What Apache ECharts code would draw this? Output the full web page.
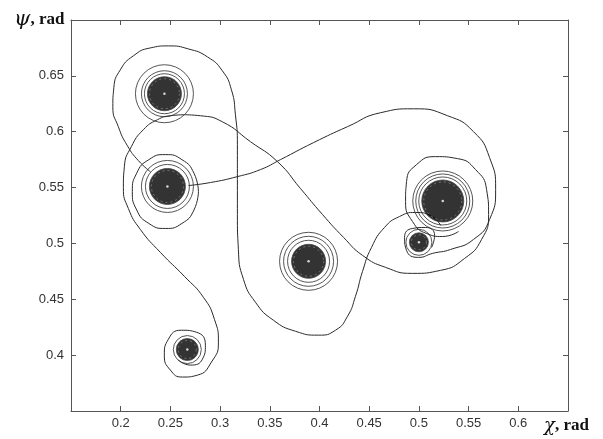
<!DOCTYPE html>
<html>
<head>
<meta charset="utf-8">
<script src="https://cdn.jsdelivr.net/npm/echarts@6/dist/echarts.min.js"></script>
<style>
html,body{margin:0;padding:0;background:#fff;}
#chart{width:603px;height:439px;}
</style>
</head>
<body>
<div id="chart"></div>
<script>
// ---- data (units: rad) ----
const xTicks = [0.2, 0.25, 0.3, 0.35, 0.4, 0.45, 0.5, 0.55, 0.6];
const yTicks = [0.4, 0.45, 0.5, 0.55, 0.6, 0.65];

// focus points (centres of the dense spirals)
const fociChi = [0.244, 0.247, 0.389, 0.524, 0.500, 0.267];
const fociPsi = [0.634, 0.551, 0.484, 0.538, 0.501, 0.405];

// trajectory pieces [chi, psi]
const pathTopLoop = [
  [0.2298,0.5643],[0.2178,0.5741],[0.2067,0.5875],[0.1976,0.6045],[0.1921,0.6223],
  [0.1931,0.6393],[0.1996,0.6554],[0.2127,0.6679],[0.2298,0.6750],[0.2480,0.6768],
  [0.2681,0.6741],[0.2872,0.6670],[0.3023,0.6545],[0.3114,0.6375],[0.3154,0.6152],
  [0.3174,0.5884],[0.3174,0.5571],[0.3174,0.5259],[0.3184,0.4946],[0.3235,0.4679],
  [0.3356,0.4473],[0.3537,0.4312],[0.3758,0.4214],[0.3990,0.4179],[0.4161,0.4223],
  [0.4282,0.4348],[0.4362,0.4527],[0.4433,0.4750],[0.4523,0.4964],[0.4654,0.5143],
  [0.4805,0.5241],[0.4966,0.5277],[0.5117,0.5250],[0.5218,0.5161]
];
const pathToF = [
  [0.2641,0.6152],[0.2500,0.6143],[0.2369,0.6107],[0.2228,0.6018],[0.2107,0.5866],
  [0.2037,0.5688],[0.2027,0.5500],[0.2077,0.5313],[0.2198,0.5125],[0.2399,0.4920],
  [0.2641,0.4705],[0.2832,0.4518],[0.2943,0.4321],[0.2983,0.4116],[0.2913,0.3938],
  [0.2772,0.3821],[0.2621,0.3804],[0.2500,0.3866],[0.2439,0.4000],[0.2480,0.4143],
  [0.2610,0.4223],[0.2762,0.4205],[0.2852,0.4089],[0.2822,0.3964],[0.2701,0.3911],
  [0.2580,0.3955]
];
const pathToD = [
  [0.2641,0.6152],[0.2802,0.6143],[0.3023,0.6089],[0.3305,0.5911],[0.3577,0.5732],
  [0.3809,0.5491],[0.4030,0.5259],[0.4242,0.5054],[0.4433,0.4893],[0.4664,0.4786],
  [0.4936,0.4732],[0.5218,0.4759],[0.5460,0.4866],[0.5631,0.5036],[0.5701,0.5259],
  [0.5681,0.5482],[0.5570,0.5661],[0.5389,0.5759],[0.5168,0.5777],[0.4976,0.5705],
  [0.4876,0.5554],[0.4866,0.5375],[0.4936,0.5196],[0.5077,0.5089],[0.5238,0.5062],
  [0.5399,0.5107]
];
const pathUpper = [
  [0.2681,0.5518],[0.2902,0.5545],[0.3174,0.5598],[0.3406,0.5661],[0.3607,0.5750],
  [0.3939,0.5902],[0.4282,0.6045],[0.4614,0.6170],[0.4946,0.6205],[0.5289,0.6143],
  [0.5550,0.6000],[0.5711,0.5768],[0.5772,0.5482],[0.5711,0.5214],[0.5550,0.5036],
  [0.5319,0.4946],[0.5138,0.4911],[0.4997,0.4875],[0.4876,0.4937],[0.4856,0.5054],
  [0.4936,0.5134],[0.5067,0.5143],[0.5158,0.5071],[0.5128,0.4964]
];
const loopB = [
  [0.2782,0.5464],[0.2737,0.5299],[0.2616,0.5179],[0.2449,0.5134],[0.2283,0.5179],
  [0.2161,0.5299],[0.2117,0.5464],[0.2161,0.5629],[0.2283,0.5750],[0.2449,0.5795],
  [0.2616,0.5750],[0.2737,0.5629],[0.2782,0.5464]
];

// ---- style (pixel sizes of the spiral cores and rings) ----
const coreSize = [34, 36, 34, 42, 19, 22];
const ringSets = [[40, 46, 58], [44, 52], [42, 50, 58], [48, 54, 60], [26], [28]];
const lineColor = '#2a2a2a';

const chart = echarts.init(document.getElementById('chart'));
const xFmt = v => { const r = Math.round(v*100)/100; return xTicks.indexOf(r) >= 0 ? String(r) : ''; };
const yFmt = v => { const r = Math.round(v*100)/100; return yTicks.indexOf(r) >= 0 ? String(r) : ''; };

const series = [];
[pathTopLoop, pathToF, pathToD, pathUpper, loopB].forEach(p => {
  series.push({
    type: 'line', data: p, smooth: 0.55, showSymbol: false, symbol: 'none',
    lineStyle: { color: lineColor, width: 1 }, silent: true, z: 2
  });
});
const fociData = fociChi.map((c, i) => [c, fociPsi[i]]);
// rings
ringSets.forEach((rs, i) => {
  rs.forEach(s => {
    series.push({
      type: 'scatter', data: [fociData[i]], symbol: 'circle', symbolSize: s,
      itemStyle: { color: 'rgba(0,0,0,0)', borderColor: lineColor, borderWidth: 1 },
      silent: true, z: 3
    });
  });
});
// dense cores
series.push({
  type: 'scatter', data: fociData, symbol: 'circle',
  symbolSize: (v, p) => coreSize[p.dataIndex],
  itemStyle: { color: '#000', borderColor: '#444', borderWidth: 1 },
  silent: true, z: 4
});
series.push({
  type: 'scatter', data: fociData, symbol: 'circle',
  symbolSize: (v, p) => coreSize[p.dataIndex] - 4,
  itemStyle: { color: 'rgba(0,0,0,0)', borderColor: '#888', borderWidth: 1, borderType: [2, 3] },
  silent: true, z: 5
});
series.push({
  type: 'scatter', data: fociData, symbol: 'circle', symbolSize: 2.5,
  itemStyle: { color: '#fff' }, silent: true, z: 6
});

const axisLine = { show: true, lineStyle: { color: '#555', width: 1 } };
const tick = { show: true, inside: true, length: 5, lineStyle: { color: '#555' } };
const lblFont = { color: '#333', fontSize: 13, fontFamily: 'Liberation Sans, Arial, sans-serif' };

chart.setOption({
  animation: false,
  grid: { left: 71, right: 35, top: 20, bottom: 28, show: false },
  xAxis: [
    { type: 'value', min: 0.15, max: 0.65, interval: 0.05, axisLine, axisTick: tick,
      splitLine: { show: false }, axisLabel: Object.assign({ formatter: xFmt, margin: 6 }, lblFont) },
    { type: 'value', position: 'top', min: 0.15, max: 0.65, interval: 0.05, axisLine, axisTick: tick,
      splitLine: { show: false }, axisLabel: { show: false } }
  ],
  yAxis: [
    { type: 'value', min: 0.35, max: 0.7, interval: 0.05, axisLine, axisTick: tick,
      splitLine: { show: false }, axisLabel: Object.assign({ formatter: yFmt, margin: 7 }, lblFont) },
    { type: 'value', position: 'right', min: 0.35, max: 0.7, interval: 0.05, axisLine, axisTick: tick,
      splitLine: { show: false }, axisLabel: { show: false } }
  ],
  graphic: [
    { type: 'text', left: 14, top: 9, style: {
      text: '{g|ψ}{r|, rad}', rich: {
        g: { fontFamily: 'DejaVu Serif, Liberation Serif, serif', fontStyle: 'italic', fontSize: 21, fill: '#111' },
        r: { fontFamily: 'Liberation Serif, serif', fontWeight: 'bold', fontSize: 17, fill: '#111' }
      } } },
    { type: 'text', left: 544, top: 417, style: {
      text: '{g|χ}{r|, rad}', rich: {
        g: { fontFamily: 'DejaVu Serif, Liberation Serif, serif', fontStyle: 'italic', fontSize: 18, fill: '#111' },
        r: { fontFamily: 'Liberation Serif, serif', fontWeight: 'bold', fontSize: 17, fill: '#111' }
      } } }
  ],
  series
});
</script>
</body>
</html>
